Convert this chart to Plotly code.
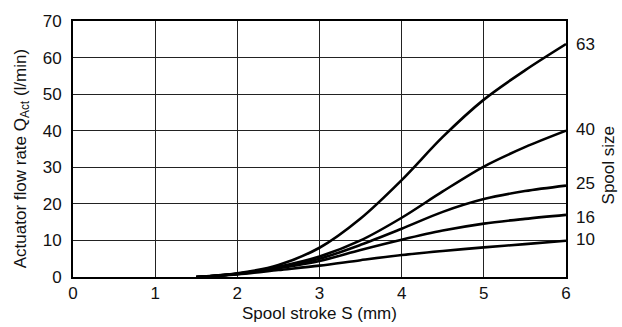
import plotly.graph_objects as go

# Spool stroke positions (mm)
stroke = [1.5, 2.0, 2.5, 3.0, 3.5, 4.0, 4.5, 5.0, 5.5, 6.0]

# Actuator flow rate (l/min) per spool size
flow_63 = [0, 1.0, 3.3, 8.0, 16.0, 26.5, 38.3, 48.5, 56.5, 63.7]
flow_40 = [0, 0.9, 2.8, 5.6, 10.0, 16.2, 23.4, 30.2, 35.5, 40.0]
flow_25 = [0, 0.9, 2.6, 5.0, 8.8, 13.2, 17.8, 21.3, 23.5, 25.0]
flow_16 = [0, 0.8, 2.4, 4.4, 7.4, 10.2, 12.7, 14.6, 15.9, 17.0]
flow_10 = [0, 0.7, 1.9, 3.1, 4.6, 6.0, 7.1, 8.1, 9.0, 9.9]

series = [("63", flow_63), ("40", flow_40), ("25", flow_25), ("16", flow_16), ("10", flow_10)]
label_y = {"63": 63.5, "40": 40.2, "25": 25.5, "16": 16.3, "10": 10.2}

font_family = "Liberation Sans, Arial, sans-serif"
txt = dict(family=font_family, size=17, color="#111")

fig = go.Figure()
for name, vals in series:
    fig.add_trace(go.Scatter(
        x=stroke, y=vals, mode="lines", name=name,
        line=dict(color="black", width=2.6, shape="spline", smoothing=0.9),
        showlegend=False, hoverinfo="skip",
    ))
    fig.add_annotation(
        x=6, y=label_y[name], xref="x", yref="y", text=name,
        showarrow=False, xanchor="left", yanchor="middle", xshift=8,
        font=txt,
    )

# Right-hand caption for the curve labels
fig.add_annotation(
    x=1.0, y=30.5, xref="paper", yref="y", text="Spool size",
    showarrow=False, textangle=-90, xanchor="center", yanchor="middle", xshift=42,
    font=txt,
)
# Axis titles
fig.add_annotation(
    x=0, y=0.46, xref="paper", yref="paper",
    text="Actuator flow rate Q<sub>Act</sub> (l/min)",
    showarrow=False, textangle=-90, xanchor="center", yanchor="middle", xshift=-51,
    font=txt,
)
fig.add_annotation(
    x=3.0, y=0, xref="x", yref="paper", text="Spool stroke S (mm)",
    showarrow=False, xanchor="center", yanchor="middle", yshift=-36,
    font=txt,
)

fig.update_xaxes(
    range=[0, 6], tick0=0, dtick=1,
    showgrid=True, gridcolor="#222", gridwidth=1,
    showline=True, linecolor="black", linewidth=2, mirror=True,
    zeroline=False, ticks="", tickfont=txt,
    fixedrange=True,
)
fig.update_yaxes(
    range=[0, 70], tick0=0, dtick=10,
    showgrid=True, gridcolor="#222", gridwidth=1,
    showline=True, linecolor="black", linewidth=2, mirror=True,
    zeroline=False, ticks="", tickfont=txt,
    ticklabelstandoff=6, fixedrange=True,
)

fig.update_layout(
    width=622, height=327,
    margin=dict(l=73, r=56, t=13, b=50),
    paper_bgcolor="white", plot_bgcolor="white",
    font=txt,
)

fig.write_html("out.html")
